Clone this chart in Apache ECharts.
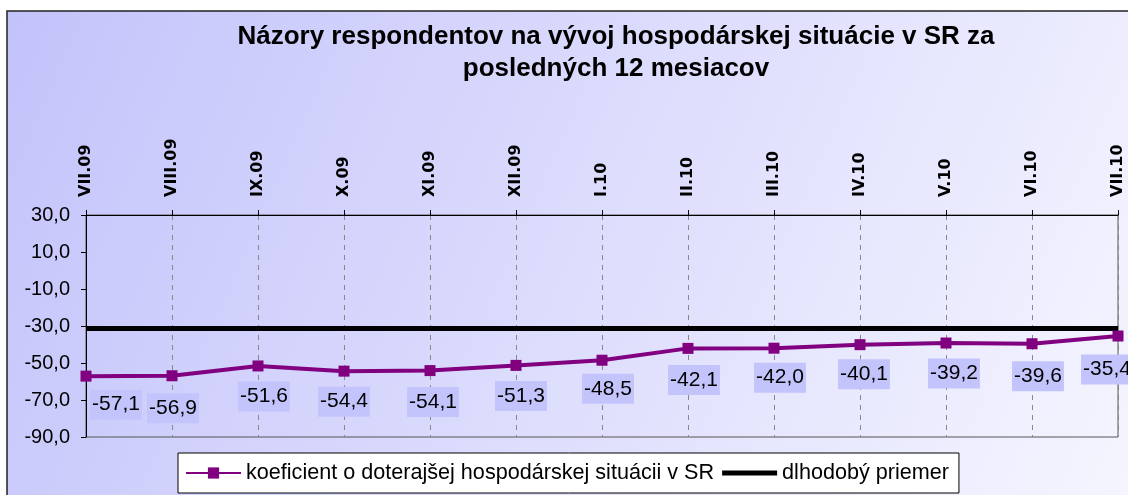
<!DOCTYPE html>
<html>
<head>
<meta charset="utf-8">
<script src="https://cdn.jsdelivr.net/npm/echarts@6/dist/echarts.min.js"></script>
<style>
html,body{margin:0;padding:0;background:#fff;}
#c{width:1128px;height:495px;}
</style>
</head>
<body>
<div id="c"></div>
<script>
const categories = ['VII.09','VIII.09','IX.09','X.09','XI.09','XII.09','I.10','II.10','III.10','IV.10','V.10','VI.10','VII.10'];
const koeficient = [-57.1,-56.9,-51.6,-54.4,-54.1,-51.3,-48.5,-42.1,-42.0,-40.1,-39.2,-39.6,-35.4];
const priemer = [-31.3,-31.3,-31.3,-31.3,-31.3,-31.3,-31.3,-31.3,-31.3,-31.3,-31.3,-31.3,-31.3];
const labelOffsets = [[30,-2],[1,2],[6,0],[0,0],[3,1],[5,0],[6,-2],[6,1],[6,-1],[4,-1],[8,0],[6,2],[-11,3]];
const yTicks = {min:-90, max:30, interval:20};
const titleText = 'Názory respondentov na vývoj hospodárskej situácie v SR za\nposledných 12 mesiacov';
const seriesNames = ['koeficient o doterajšej hospodárskej situácii v SR','dlhodobý priemer'];

const FONT = 'Liberation Sans, Arial, sans-serif';
const chart = echarts.init(document.getElementById('c'));
const fmt = v => v.toFixed(1).replace('.', ',');
chart.setOption({
  animation:false,
  textStyle:{fontFamily:FONT},
  graphic:[{
    type:'rect', z:-10, silent:true,
    shape:{x:7,y:11,width:1140,height:500},
    style:{
      fill:new echarts.graphic.LinearGradient(0,0,1,1,[{offset:0,color:'#c3c3fb'},{offset:1,color:'#f6f6ff'}]),
      stroke:'#222', lineWidth:1.5
    }
  }],
  title:{
    text:titleText, left:611, top:16, textAlign:'center',
    textStyle:{fontSize:26, fontWeight:'bold', color:'#000', lineHeight:32, fontFamily:FONT}
  },
  grid:{left:86, right:10, top:215, bottom:58, show:true, borderColor:'#555', borderWidth:1, backgroundColor:'transparent'},
  legend:{
    left:178, top:453, padding:[9,10,9,7], itemGap:8, itemWidth:55, itemHeight:14,
    backgroundColor:'#fff', borderColor:'#000', borderWidth:1,
    textStyle:{fontSize:21.6, color:'#000', fontFamily:FONT},
    data:[{name:seriesNames[0]},{name:seriesNames[1], icon:'path://M0,0L55,0L55,5L0,5Z'}]
  },
  xAxis:{
    type:'category', data:categories, position:'top', boundaryGap:false,
    axisLine:{onZero:false, lineStyle:{color:'#000', width:1}},
    axisTick:{show:true, length:5, lineStyle:{color:'#000'}},
    axisLabel:{rotate:-90, fontSize:16, fontWeight:'bold', color:'#000', margin:18, interval:0, fontFamily:'DejaVu Sans'},
    splitLine:{show:true, lineStyle:{color:'#888', type:[5,5], width:1}}
  },
  yAxis:{
    type:'value', min:yTicks.min, max:yTicks.max, interval:yTicks.interval,
    axisLine:{show:true, lineStyle:{color:'#000', width:1}},
    axisTick:{show:true, length:5, lineStyle:{color:'#000'}},
    axisLabel:{fontSize:20, color:'#000', margin:16, formatter:fmt},
    splitLine:{show:false}
  },
  series:[
    {
      name:seriesNames[0], type:'line', data:koeficient.map((v,i)=>({value:v, label:{offset:labelOffsets[i]}})),
      symbol:'rect', symbolSize:11, color:'#800080',
      lineStyle:{color:'#800080', width:4},
      itemStyle:{color:'#800080'},
      label:{show:true, position:'bottom', distance:10, formatter:p=>fmt(p.value),
        fontSize:21, lineHeight:22, color:'#000', backgroundColor:'#c4c4fc', padding:[4,2,4,2],
        fontFamily:FONT},
      z:3
    },
    {
      name:seriesNames[1], type:'line', data:priemer, symbol:'none', color:'#000',
      lineStyle:{color:'#000', width:5}, z:2
    }
  ]
});
</script>
</body>
</html>
